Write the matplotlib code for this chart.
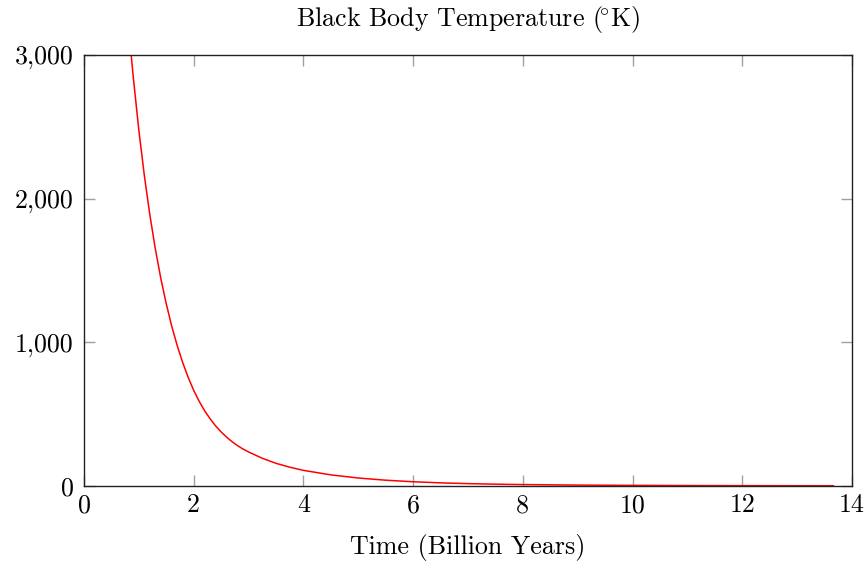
import matplotlib
matplotlib.use("Agg")
import matplotlib.pyplot as plt
from matplotlib.ticker import FixedLocator, FixedFormatter

plt.rcParams['font.family'] = 'serif'
plt.rcParams['font.serif'] = ['cmr10']
plt.rcParams['mathtext.fontset'] = 'cm'
plt.rcParams['axes.formatter.use_mathtext'] = True

# Data (time in billion years, temperature in K)
time_gyr = [0.86, 0.90, 1.00, 1.10, 1.20, 1.30, 1.40, 1.50, 1.60, 1.70,
            1.80, 1.90, 2.00, 2.10, 2.20, 2.30, 2.40, 2.50, 2.60, 2.70,
            2.80, 2.90, 3.00, 3.25, 3.50, 3.75, 4.00, 4.50, 5.00, 5.50,
            6.00, 6.50, 7.00, 7.50, 8.00, 9.00, 10.0, 11.0, 12.0, 13.0,
            13.66]
temp_k = [3000, 2838, 2475, 2160, 1887, 1651, 1445, 1267, 1111, 976,
          858, 755, 665, 589, 523, 467, 418, 376, 340, 308,
          281, 257, 237, 193, 158, 131, 109, 77.5, 55.7, 40.4,
          29.7, 22.0, 16.6, 12.8, 10.0, 6.4, 4.5, 3.3, 2.6, 2.1,
          1.9]

x_ticks = [0, 2, 4, 6, 8, 10, 12, 14]
x_ticklabels = ['0', '2', '4', '6', '8', '10', '12', '14']
y_ticks = [0, 1000, 2000, 3000]
y_ticklabels = ['0', '1,000', '2,000', '3,000']

FS = 18.7

fig = plt.figure(figsize=(8.67, 5.65), dpi=100)
ax = fig.add_axes([0.0969, 0.1398, 0.8858, 0.7629])

ax.plot(time_gyr, temp_k, color='red', lw=1.1, solid_joinstyle='round')

ax.set_xlim(0, 14)
ax.set_ylim(0, 3000)
ax.xaxis.set_major_locator(FixedLocator(x_ticks))
ax.xaxis.set_major_formatter(FixedFormatter(x_ticklabels))
ax.yaxis.set_major_locator(FixedLocator(y_ticks))
ax.yaxis.set_major_formatter(FixedFormatter(y_ticklabels))

ax.tick_params(direction='in', length=8, width=1, color='#a0a0a0',
               top=True, right=True, labelsize=FS)
ax.tick_params(axis='x', pad=5.5)
ax.tick_params(axis='y', pad=7.5)
for s in ax.spines.values():
    s.set_linewidth(1.0)
    s.set_color('#222222')

ax.set_title(r'Black Body Temperature ($\!^{\circ}$K)', fontsize=FS, pad=21)
ax.set_xlabel('Time (Billion Years)', fontsize=FS, labelpad=12)

fig.savefig('out.png', dpi=100)
